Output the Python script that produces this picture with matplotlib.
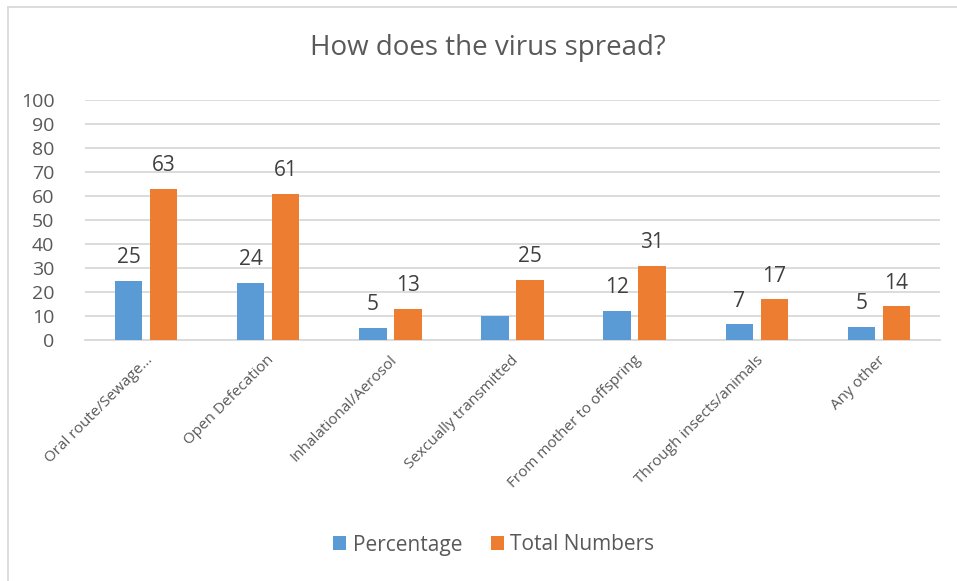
import matplotlib
matplotlib.use("Agg")
import matplotlib.pyplot as plt
import matplotlib.transforms as mtransforms
from matplotlib.lines import Line2D
import numpy as np

categories = [
    "Oral route/Sewage...",
    "Open Defecation",
    "Inhalational/Aerosol",
    "Sexcually transmitted",
    "From mother to offspring",
    "Through insects/animals",
    "Any other",
]
percentage = [24.6, 23.8, 5.1, 9.8, 12.1, 6.6, 5.5]
percentage_labels = ["25", "24", "5", None, "12", "7", "5"]
total_numbers = [63, 61, 13, 25, 31, 17, 14]
total_labels = ["63", "61", "13", "25", "31", "17", "14"]
y_ticks = [0, 10, 20, 30, 40, 50, 60, 70, 80, 90, 100]

BLUE = "#5B9BD5"
ORANGE = "#ED7D31"
TEXT = "#595959"
LABEL = "#404040"
GRID = "#D9D9D9"

plt.rcParams["font.family"] = ["Open Sans", "DejaVu Sans"]

fig = plt.figure(figsize=(9.57, 5.81), dpi=100)
ax = fig.add_axes([85 / 957, 1 - 340 / 581, (940 - 85) / 957, (340 - 100) / 581])

x = np.arange(len(categories))
width = 0.225
offset = 0.143

bars_p = ax.bar(x - offset, percentage, width, color=BLUE, label="Percentage", zorder=3)
bars_t = ax.bar(x + offset, total_numbers, width, color=ORANGE, label="Total Numbers", zorder=3)

for bars, labels in ((bars_p, percentage_labels), (bars_t, total_labels)):
    for bar, lab in zip(bars, labels):
        if lab is None:
            continue
        ax.annotate(lab, (bar.get_x() + bar.get_width() / 2, bar.get_height()),
                    xytext=(0, 9), textcoords="offset points", ha="center", va="bottom",
                    fontsize=15, color=LABEL)

ax.set_xlim(-0.5, len(categories) - 0.5)
ax.set_ylim(0, 100)
ax.set_yticks(y_ticks)
ax.set_yticklabels([str(v) for v in y_ticks], fontsize=14, color=TEXT)
ax.yaxis.grid(True, color=GRID, linewidth=1.3, zorder=0)
ax.set_axisbelow(True)
for side in ["left", "right", "top"]:
    ax.spines[side].set_visible(False)
ax.spines["bottom"].set_color(GRID)
ax.spines["bottom"].set_linewidth(1.3)
ax.tick_params(axis="both", length=0)
ax.tick_params(axis="y", pad=22)
ax.tick_params(axis="x", pad=13)

ax.set_xticks(x)
shift = mtransforms.ScaledTranslation(4 / 100, 0, fig.dpi_scale_trans)
ax.set_xticklabels(categories, rotation=45, ha="right", va="center",
                   rotation_mode="anchor", fontsize=11, color=TEXT)
for lbl in ax.get_xticklabels():
    lbl.set_transform(lbl.get_transform() + shift)

fig.text(488 / 957, 1 - 48 / 581, "How does the virus spread?", ha="center", va="center",
         fontsize=20, color=TEXT)

fig.legend(handles=[bars_p, bars_t], labels=["Percentage", "Total Numbers"],
           loc="center", bbox_to_anchor=(494 / 957, 1 - 545 / 581), ncol=2, frameon=False,
           fontsize=15, labelcolor=TEXT, handlelength=0.62, handleheight=0.62,
           handletextpad=0.3, columnspacing=1.4)

# chart frame
fig.add_artist(Line2D([8 / 957, 8 / 957], [0, 1 - 7 / 581], transform=fig.transFigure,
                      color=GRID, linewidth=1.3))
fig.add_artist(Line2D([8 / 957, 1], [1 - 7 / 581, 1 - 7 / 581], transform=fig.transFigure,
                      color=GRID, linewidth=1.3))

fig.savefig("out.png", dpi=100, facecolor="white")
